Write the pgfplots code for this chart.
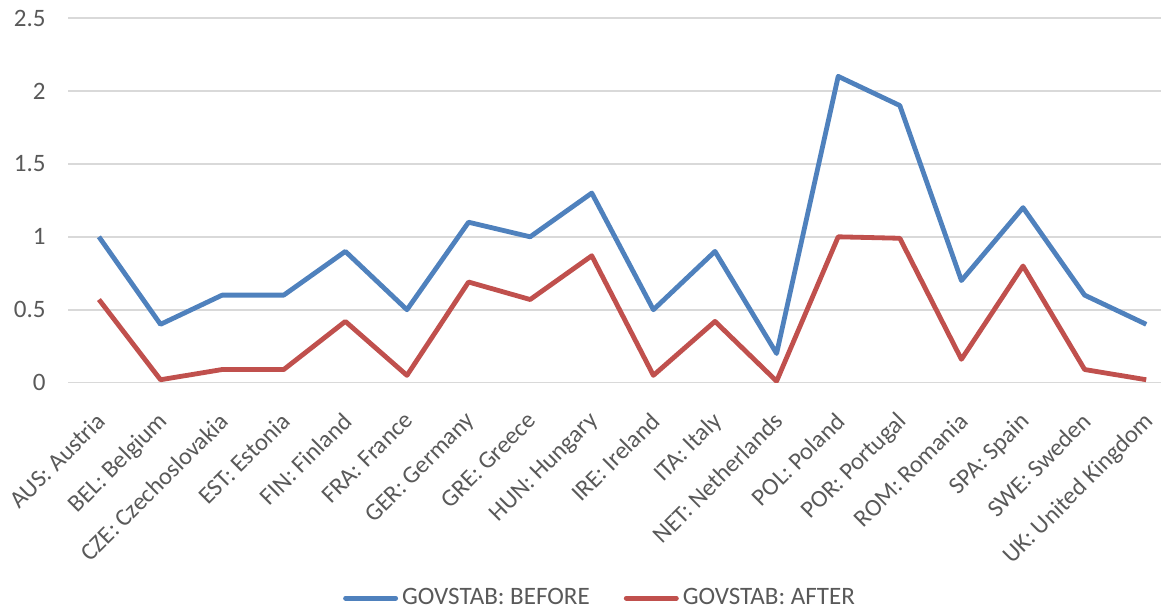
\documentclass[border=0pt]{standalone}
\usepackage{pgfplots}
\pgfplotsset{compat=1.18}
\usepackage{fontspec}
\setmainfont{Carlito}
\definecolor{before}{HTML}{4F81BD}
\definecolor{after}{HTML}{C0504D}
\definecolor{txt}{HTML}{595959}
\definecolor{grd}{HTML}{D9D9D9}
\begin{document}
\fontsize{12.5}{15}\selectfont
\begin{tikzpicture}
\begin{axis}[
    scale only axis,
    width=553.5pt,
    height=182pt,
    xmin=-0.5, xmax=17.5,
    ymin=0, ymax=2.5,
    ytick={0,0.5,...,2.5},
    xtick={0,...,17},
    xticklabels={AUS: Austria, BEL: Belgium, CZE: Czechoslovakia, EST: Estonia,
        FIN: Finland, FRA: France, GER: Germany, GRE: Greece, HUN: Hungary,
        IRE: Ireland, ITA: Italy, NET: Netherlands, POL: Poland, POR: Portugal,
        ROM: Romania, SPA: Spain, SWE: Sweden, UK: United Kingdom},
    xticklabel style={xshift=-2pt, yshift=-11pt, rotate=45, anchor=north east,
        font=\fontsize{12.2}{15}\selectfont, text=txt, inner sep=2pt},
    yticklabel style={font=\fontsize{12.5}{15}\selectfont, text=txt, inner sep=3pt},
    yticklabel shift=8pt,
    /pgf/number format/assume math mode=true,
    axis line style={draw=none},
    major tick length=0pt,
    ymajorgrids,
    grid style={grd, line width=0.8pt},
    legend style={at={(0.4806,-0.591)}, anchor=center, draw=none, legend columns=2,
        font=\fontsize{12.5}{15}\selectfont, text=txt,
        /tikz/every even column/.append style={column sep=15pt}},
    legend image code/.code={\draw[#1, line cap=round] (0pt,0pt) -- (25pt,0pt);},
    every axis plot/.append style={line width=2.4pt, line join=round, mark=none},
]
\addplot[before] coordinates {
    (0,1.0) (1,0.4) (2,0.6) (3,0.6) (4,0.9) (5,0.5) (6,1.1) (7,1.0) (8,1.3)
    (9,0.5) (10,0.9) (11,0.2) (12,2.1) (13,1.9) (14,0.7) (15,1.2) (16,0.6) (17,0.4)
};
\addlegendentry{GOVSTAB: BEFORE}
\addplot[after] coordinates {
    (0,0.57) (1,0.02) (2,0.09) (3,0.09) (4,0.42) (5,0.05) (6,0.69) (7,0.57) (8,0.87)
    (9,0.05) (10,0.42) (11,0.01) (12,1.0) (13,0.99) (14,0.16) (15,0.80) (16,0.09) (17,0.02)
};
\addlegendentry{GOVSTAB: AFTER}
\end{axis}
\pgfresetboundingbox
\path[use as bounding box] ([xshift=-34pt,yshift=-113.5pt]current axis.south west)
    rectangle ([xshift=-8pt,yshift=9pt]current axis.north east);
\end{tikzpicture}
\end{document}
